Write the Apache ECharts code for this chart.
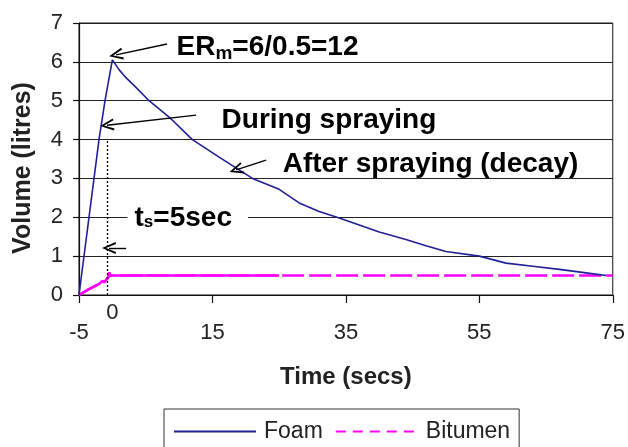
<!DOCTYPE html>
<html>
<head>
<meta charset="utf-8">
<script src="https://cdn.jsdelivr.net/npm/echarts@6/dist/echarts.min.js"></script>
<style>html,body{margin:0;padding:0;background:#fff;}#c{width:628px;height:447px;}</style>
</head>
<body>
<div id="c"></div>
<script>
// ---- data ----
var foamX = [-5, -2.75, -2, -1.1, 0, 1, 2, 3.5, 5.5, 8.5, 12, 16, 21, 25, 28, 31, 34, 37, 40, 44, 47, 50, 55, 59, 63, 67, 71, 74];
var foamY = [0, 3, 4, 5, 6.05, 5.8, 5.6, 5.35, 5.0, 4.58, 4.0, 3.55, 3.0, 2.72, 2.37, 2.15, 1.98, 1.8, 1.62, 1.43, 1.27, 1.12, 1.0, 0.82, 0.74, 0.66, 0.57, 0.5];
var bitX = [-5, -3.5, -2, -1.5, -1.2, -0.6, -0.5, -0.3, 25, 75];
var bitY = [0, 0.15, 0.28, 0.36, 0.33, 0.46, 0.58, 0.5, 0.5, 0.5];
var bitSolidUntil = 25;
var xTickValues = [-5, 15, 35, 55, 75];
var xExtraLabels = [0];
var yMin = 0, yMax = 7, yStep = 1;
var xMin = -5, xMax = 75;

// annotations (data coordinates)
var annotMain = ['ER', 'During spraying', 'After spraying (decay)', 't'];
var annotSub = ['m', '', '', 's'];
var annotRest = ['=6/0.5=12', '', '', '=5sec'];
var annotX = [9.55, 16.3, 25.45, 2.2];
var annotY = [6.38, 4.5, 3.37, 1.98];
var arrowFrom = [[8.2, 6.46], [12.55, 4.63], [23.05, 3.47], [2.05, 1.21]];
var arrowTo = [[0.55, 6.18], [-0.8, 4.37], [18.55, 3.22], [-0.5, 1.21]];
var sprayEndX = -0.8, sprayLineTop = 4;

// ---- build ----
function zip(a, b) { return a.map(function (v, i) { return [v, b[i]]; }); }
var foam = zip(foamX, foamY);
var bit = zip(bitX, bitY);
var bitSolid = bit.filter(function (p) { return p[0] <= bitSolidUntil; });

var FONT = 'Liberation Sans, Arial, sans-serif';
var chevron = 'path://M5,0 L10,13 L8.4,13.5 L5,4 L1.6,13.5 L0,13 Z';

var markPts = annotMain.map(function (m, i) {
  var subStyle = i === 0 ? 's1' : 's2';
  var txt = '{b|' + m + '}' + (annotSub[i] ? '{' + subStyle + '|' + annotSub[i] + '}' : '') + (annotRest[i] ? '{b|' + annotRest[i] + '}' : '');
  var item = {
    coord: [annotX[i], annotY[i]],
    label: { formatter: txt }
  };
  if (i === 3) {
    item.label.backgroundColor = '#fff';
    item.label.padding = [2, 16, 2, 7];
  }
  return item;
});

var arrows = arrowFrom.map(function (f, i) {
  return [{ coord: f, symbol: 'none' }, { coord: arrowTo[i], symbol: chevron, symbolSize: [12, 14] }];
});
arrows.push([
  { coord: [sprayEndX, 0], symbol: 'none', lineStyle: { type: [2, 2], width: 1.3, color: '#000' } },
  { coord: [sprayEndX, sprayLineTop], symbol: 'none' }
]);

var chart = echarts.init(document.getElementById('c'), null, { renderer: 'canvas' });
chart.setOption({
  animation: false,
  backgroundColor: '#fff',
  textStyle: { fontFamily: FONT },
  grid: { left: 79, right: 15, top: 23, bottom: 152, show: true, borderColor: '#111', borderWidth: 1 },
  legend: {
    data: [
      { name: 'Foam' },
      { name: 'Bitumen', lineStyle: { type: [10, 7] } }
    ],
    left: 164, top: 409,
    orient: 'horizontal',
    itemWidth: 82, itemHeight: 14, itemGap: 12,
    padding: [11, 9, 14, 9],
    borderColor: '#333', borderWidth: 1,
    itemStyle: { opacity: 0, color: 'rgba(0,0,0,0)', borderWidth: 0 },
    textStyle: { fontSize: 23, color: '#222', fontFamily: FONT, padding: [0, 0, 0, 3] }
  },
  xAxis: [{
    type: 'value', min: xMin, max: xMax,
    name: 'Time (secs)', nameLocation: 'middle', nameGap: 70,
    nameTextStyle: { fontSize: 24, fontWeight: 'bold', color: '#222', fontFamily: FONT },
    axisLine: { show: true, onZero: false, lineStyle: { color: '#111', width: 1.2 } },
    axisTick: { show: true, length: 8, customValues: xTickValues, lineStyle: { color: '#111', width: 1.2 } },
    axisLabel: { customValues: xTickValues, fontSize: 22, color: '#222', margin: 27, fontFamily: FONT },
    splitLine: { show: false }
  }, {
    type: 'value', min: xMin, max: xMax, position: 'bottom',
    axisLine: { show: false, onZero: false }, axisTick: { show: false },
    axisLabel: { customValues: xExtraLabels, fontSize: 22, color: '#222', margin: 7, fontFamily: FONT },
    splitLine: { show: false }
  }],
  yAxis: {
    type: 'value', min: yMin, max: yMax, interval: yStep,
    name: 'Volume (litres)', nameLocation: 'middle', nameGap: 43,
    nameTextStyle: { fontSize: 25, fontWeight: 'bold', color: '#222', fontFamily: FONT, padding: [0, 18, 0, 0] },
    axisLine: { show: true, onZero: false, lineStyle: { color: '#111', width: 1.2 } },
    axisTick: { show: true, length: 6, lineStyle: { color: '#111', width: 1.2 } },
    axisLabel: { fontSize: 22, color: '#222', margin: 16, fontFamily: FONT },
    splitLine: { show: true, lineStyle: { color: '#222', width: 1.2 } }
  },
  series: [{
    name: 'Foam', type: 'line', data: foam, showSymbol: false, symbol: 'none',
    lineStyle: { color: '#1f1f96', width: 1.6 }, itemStyle: { color: '#1f1f96' },
    z: 3,
    markLine: {
      silent: true, animation: false,
      label: { show: false },
      lineStyle: { color: '#000', width: 1.4, type: 'solid' },
      itemStyle: { color: '#000' },
      data: arrows
    },
    markPoint: {
      silent: true, animation: false,
      symbol: 'circle', symbolSize: 1,
      itemStyle: { color: 'rgba(0,0,0,0)' },
      label: {
        show: true, position: 'right', distance: 0, color: '#000',
        rich: {
          b: { fontSize: 28, fontWeight: 'bold', color: '#000', fontFamily: FONT },
          s1: { fontSize: 19, fontWeight: 'bold', color: '#000', fontFamily: FONT, padding: [14, 0, 0, 0] },
          s2: { fontSize: 17, fontWeight: 'bold', color: '#000', fontFamily: FONT, padding: [8, 0, 0, 0] }
        }
      },
      data: markPts
    }
  }, {
    name: 'Bitumen', type: 'line', data: bit, showSymbol: false, symbol: 'none',
    lineStyle: { color: '#ff00ff', width: 2.5, type: [22, 5] }, itemStyle: { color: '#ff00ff' },
    z: 2
  }, {
    name: 'Bitumen solid part', type: 'line', data: bitSolid, showSymbol: false, symbol: 'none',
    lineStyle: { color: '#ff00ff', width: 2.5, type: 'solid' }, itemStyle: { color: '#ff00ff' },
    z: 2
  }]
});
</script>
</body>
</html>
